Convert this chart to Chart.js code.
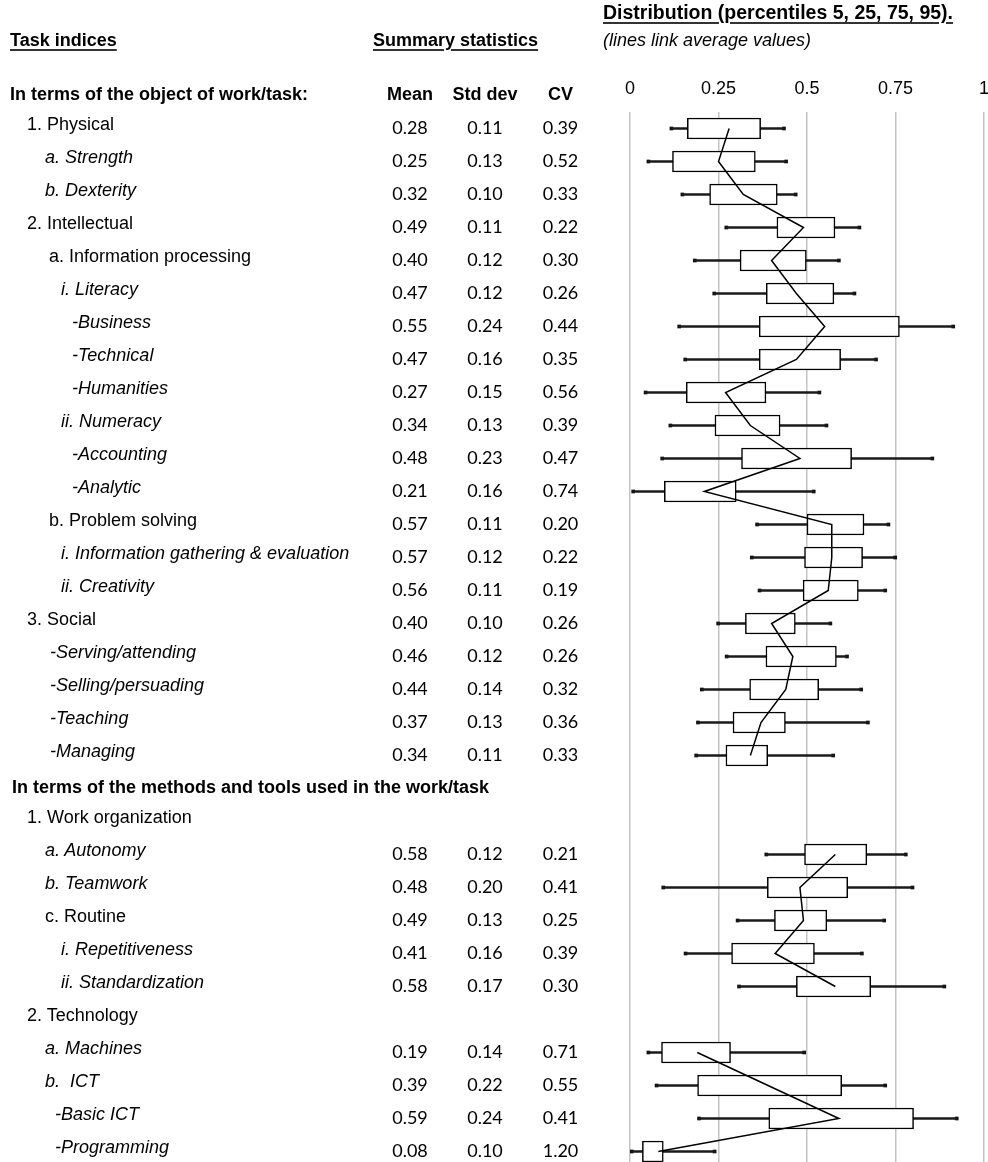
<!DOCTYPE html>
<html>
<head>
<meta charset="utf-8">
<script src="https://cdn.jsdelivr.net/npm/chart.js@4.4.0/dist/chart.umd.min.js"></script>
<style>
  html, body { margin: 0; padding: 0; background: #fff; }
  #page { position: relative; width: 988px; height: 1162px; overflow: hidden; }
  #Graph { position: absolute; left: 0; top: 0; }
  .t { position: absolute; white-space: pre; font-family: "Liberation Sans", Arial, sans-serif;
       font-size: 18px; color: #000; height: 33px; line-height: 33px; }
  .num { font-family: Lato, "Open Sans", sans-serif; text-align: center; width: 80px; }
  .b { font-weight: bold; }
  .i { font-style: italic; }
  .u { text-decoration: underline; text-decoration-thickness: 2px; text-underline-offset: 3px;
       text-decoration-color: #333; }
</style>
</head>
<body>
<div id="page">
  <canvas id="Graph" width="988" height="1172"></canvas>
</div>
<script>
// rows of the table, top to bottom (header rows have no values)
const rows = [
  "1. Physical", "a. Strength", "b. Dexterity", "2. Intellectual",
  "a. Information processing", "i. Literacy", "-Business", "-Technical",
  "-Humanities", "ii. Numeracy", "-Accounting", "-Analytic",
  "b. Problem solving", "i. Information gathering & evaluation", "ii. Creativity",
  "3. Social", "-Serving/attending", "-Selling/persuading", "-Teaching", "-Managing",
  "In terms of the methods and tools used in the work/task", "1. Work organization",
  "a. Autonomy", "b. Teamwork", "c. Routine", "i. Repetitiveness", "ii. Standardization",
  "2. Technology", "a. Machines", "b.  ICT", "-Basic ICT", "-Programming"
];

const meanVals = [0.28, 0.25, 0.32, 0.49, 0.40, 0.47, 0.55, 0.47, 0.27, 0.34, 0.48, 0.21,
  0.57, 0.57, 0.56, 0.40, 0.46, 0.44, 0.37, 0.34, null, null,
  0.58, 0.48, 0.49, 0.41, 0.58, null, 0.19, 0.39, 0.59, 0.08];
const sdVals = [0.11, 0.13, 0.10, 0.11, 0.12, 0.12, 0.24, 0.16, 0.15, 0.13, 0.23, 0.16,
  0.11, 0.12, 0.11, 0.10, 0.12, 0.14, 0.13, 0.11, null, null,
  0.12, 0.20, 0.13, 0.16, 0.17, null, 0.14, 0.22, 0.24, 0.10];
const cvVals = [0.39, 0.52, 0.33, 0.22, 0.30, 0.26, 0.44, 0.35, 0.56, 0.39, 0.47, 0.74,
  0.20, 0.22, 0.19, 0.26, 0.26, 0.32, 0.36, 0.33, null, null,
  0.21, 0.41, 0.25, 0.39, 0.30, null, 0.71, 0.55, 0.41, 1.20];

// percentiles
const p5 = [0.117, 0.052, 0.148, 0.272, 0.183, 0.238, 0.139, 0.156, 0.044, 0.114, 0.091, 0.009,
  0.359, 0.344, 0.366, 0.249, 0.273, 0.203, 0.192, 0.187, null, null,
  0.385, 0.094, 0.304, 0.157, 0.308, null, 0.052, 0.075, 0.195, 0.005];
const p25 = [0.162, 0.120, 0.225, 0.415, 0.311, 0.385, 0.365, 0.365, 0.159, 0.240, 0.315, 0.097,
  0.500, 0.493, 0.489, 0.326, 0.384, 0.338, 0.291, 0.271, null, null,
  0.493, 0.388, 0.408, 0.287, 0.470, null, 0.089, 0.191, 0.392, 0.035];
const p75 = [0.369, 0.354, 0.416, 0.579, 0.498, 0.576, 0.761, 0.595, 0.384, 0.424, 0.626, 0.300,
  0.661, 0.657, 0.645, 0.467, 0.583, 0.533, 0.439, 0.389, null, null,
  0.669, 0.615, 0.556, 0.521, 0.680, null, 0.284, 0.598, 0.801, 0.094];
const p95 = [0.435, 0.441, 0.468, 0.648, 0.590, 0.634, 0.913, 0.695, 0.535, 0.555, 0.854, 0.519,
  0.730, 0.749, 0.721, 0.566, 0.613, 0.653, 0.672, 0.574, null, null,
  0.779, 0.798, 0.718, 0.655, 0.888, null, 0.492, 0.721, 0.923, 0.239];

const xTicks = [0, 0.25, 0.5, 0.75, 1];

// label format per row: indent / italic / bold
const rowFmt = ["l1", "a", "a", "l1", "b", "c", "d", "d", "d", "c", "d", "d",
  "b", "c", "c", "l1", "e", "e", "e", "e", "h", "l1",
  "a", "a", "ar", "c", "c", "l1", "a", "a", "f", "f"];
const fmtStyle = {
  h:  { x: 12, cls: "b" },
  l1: { x: 27, cls: "" },
  a:  { x: 45, cls: "i" },
  ar: { x: 45, cls: "" },
  b:  { x: 49, cls: "" },
  c:  { x: 61, cls: "i" },
  d:  { x: 72, cls: "i" },
  e:  { x: 50, cls: "i" },
  f:  { x: 55, cls: "i" }
};

let canvas = document.getElementById("Graph");

const boxData = p25.map((v, i) => v === null ? null : [v, p75[i]]);
const whiskerData = p5.map((v, i) => v === null ? null : [v, p95[i]]);

const config = {
  type: 'bar',
  data: {
    labels: rows,
    datasets: [
      {
        type: 'line', label: 'Mean', data: meanVals, indexAxis: 'y',
        borderColor: '#000', borderWidth: 1.5, pointRadius: 0, spanGaps: false, order: 0
      },
      {
        label: 'P25-P75', data: boxData, indexAxis: 'y', grouped: false,
        barThickness: 21, backgroundColor: '#fff', borderColor: '#000',
        borderWidth: 1.5, borderSkipped: false, order: 1
      },
      {
        label: 'P5-P95', data: whiskerData, indexAxis: 'y', grouped: false,
        barThickness: 2, backgroundColor: '#1a1a1a', borderWidth: 0, order: 2
      },
      {
        type: 'line', label: 'P5', data: p5, indexAxis: 'y', showLine: false,
        pointStyle: 'rect', pointRadius: 2.6, pointBackgroundColor: '#111',
        pointBorderWidth: 0, order: 3
      },
      {
        type: 'line', label: 'P95', data: p95, indexAxis: 'y', showLine: false,
        pointStyle: 'rect', pointRadius: 2.6, pointBackgroundColor: '#111',
        pointBorderWidth: 0, order: 3
      }
    ]
  },
  options: {
    indexAxis: 'y',
    responsive: false,
    animation: false,
    events: [],
    layout: { padding: { left: 630, right: 3, top: 72, bottom: 4 } },
    plugins: { legend: { display: false }, tooltip: { enabled: false } },
    scales: {
      x: {
        type: 'linear', position: 'top', min: 0, max: 1,
        border: { display: false },
        grid: { color: '#c4c4c4', lineWidth: 1.5, drawTicks: false },
        afterBuildTicks: (s) => { s.ticks = xTicks.map(v => ({ value: v })); },
        ticks: {
          padding: 12, color: '#000',
          callback: (v) => String(v),
          font: { family: '"Liberation Sans", Arial, sans-serif', size: 18 }
        },
        afterFit: (s) => { s.height = 40; s.paddingLeft = 0; s.paddingRight = 0; }
      },
      y: { type: 'category', display: false, offset: true }
    }
  }
};

const chart = new Chart(canvas, config);

// table text, placed on the chart's own row positions
const page = document.getElementById("page");
const yScale = chart.scales.y;
const rowStep = yScale.getPixelForValue(1) - yScale.getPixelForValue(0);
const numCols = [410, 485, 560.5];

function addText(str, left, top, cls) {
  const d = document.createElement("div");
  d.className = "t " + cls;
  d.textContent = str;
  d.style.left = left + "px";
  d.style.top = top + "px";
  page.appendChild(d);
  return d;
}

rows.forEach((r, i) => {
  const cy = yScale.getPixelForValue(i);
  const f = fmtStyle[rowFmt[i]];
  addText(r, f.x, cy - 16.5 - (f.cls === "b" ? 1 : 4), f.cls);
  [meanVals[i], sdVals[i], cvVals[i]].forEach((v, k) => {
    if (v === null) return;
    addText(v.toFixed(2), numCols[k] - 40, cy - 17.5, "num");
  });
});

// column header row above the first row
const hy = yScale.getPixelForValue(0) - rowStep - 16.5 - 1;
addText("In terms of the object of work/task:", 10, hy, "b");
["Mean", "Std dev", "CV"].forEach((h, k) => {
  const d = addText(h, numCols[k] - 40, hy, "b");
  d.style.width = "80px";
  d.style.textAlign = "center";
});

// headings
addText("Task indices", 10, 24, "b u");
addText("Summary statistics", 373, 24, "b u");
const dist = addText("Distribution (percentiles 5, 25, 75, 95).", 603, -4, "b u");
dist.style.fontSize = "19.5px";
addText("(lines link average values)", 603, 24, "i");
</script>
</body>
</html>
